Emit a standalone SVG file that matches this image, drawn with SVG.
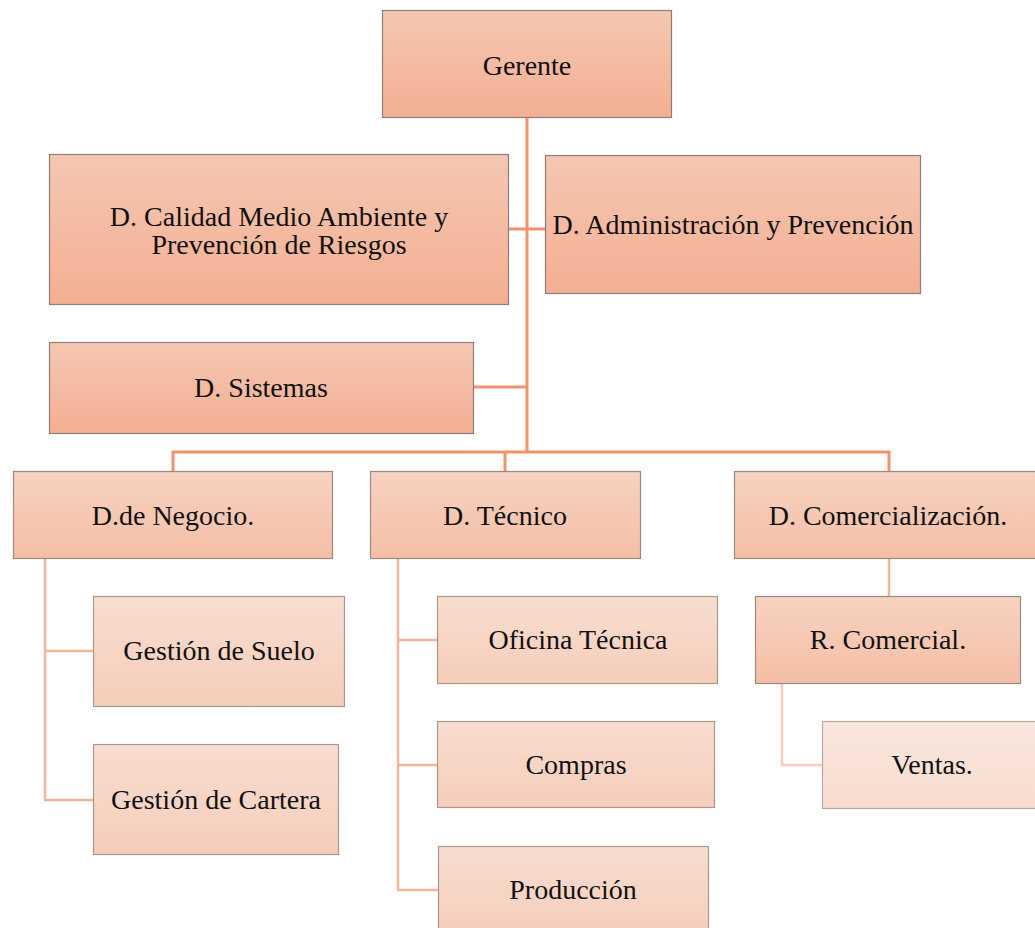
<svg xmlns="http://www.w3.org/2000/svg" width="1035" height="928" viewBox="0 0 1035 928">
  <defs>
    <linearGradient id="g1" x1="0" y1="0" x2="0" y2="1">
      <stop offset="0" stop-color="#f5c7b2"/>
      <stop offset="1" stop-color="#f3af92"/>
    </linearGradient>
    <linearGradient id="g2" x1="0" y1="0" x2="0" y2="1">
      <stop offset="0" stop-color="#f7d2c1"/>
      <stop offset="1" stop-color="#f4bea5"/>
    </linearGradient>
    <linearGradient id="g3" x1="0" y1="0" x2="0" y2="1">
      <stop offset="0" stop-color="#f8ddd0"/>
      <stop offset="1" stop-color="#f5cdba"/>
    </linearGradient>
    <linearGradient id="g4" x1="0" y1="0" x2="0" y2="1">
      <stop offset="0" stop-color="#fae7de"/>
      <stop offset="1" stop-color="#f8dccf"/>
    </linearGradient>
  </defs>
  <style>
    .box1 { fill: url(#g1); stroke: #8c7d78; stroke-width: 1.2; }
    .box2 { fill: url(#g2); stroke: #9a8a84; stroke-width: 1.2; }
    .box3 { fill: url(#g3); stroke: #a8998f; stroke-width: 1.2; }
    .box4 { fill: url(#g4); stroke: #b8aaa2; stroke-width: 1.2; }
    text { font-family: 'Liberation Serif', 'Times New Roman', serif; font-size: 28px; fill: #111; text-anchor: middle; }
    .c1 { stroke: #f0946c; stroke-width: 3; fill: none; }
    .c2 { stroke: #f4b59b; stroke-width: 2.5; fill: none; }
    .c3 { stroke: #f8cdbb; stroke-width: 2.5; fill: none; }
  </style>
  <rect width="1035" height="928" fill="#ffffff"/>

  <!-- connectors -->
  <g id="connectors">
    <path class="c1" d="M527 117 V452"/>
    <path class="c1" d="M509 229 H545"/>
    <path class="c1" d="M474 387 H527"/>
    <path class="c1" d="M173 471 V452 H889 V471"/>
    <path class="c1" d="M505 452 V471"/>
    <path class="c2" d="M45 558 V800 H93"/>
    <path class="c2" d="M45 651 H93"/>
    <path class="c2" d="M398 558 V890 H438"/>
    <path class="c2" d="M398 640 H437"/>
    <path class="c2" d="M398 765 H437"/>
    <path class="c2" d="M889 558 V596"/>
    <path class="c3" d="M782 684 V765 H822"/>
  </g>

  <!-- nodes -->
  <g id="gerente">
    <rect class="box1" x="382.5" y="10.5" width="289" height="107"/>
    <text x="527" y="75">Gerente</text>
  </g>
  <g id="calidad">
    <rect class="box1" x="49.5" y="154.5" width="459" height="150"/>
    <text x="279" y="226">D. Calidad Medio Ambiente y</text>
    <text x="279" y="254">Prevención de Riesgos</text>
  </g>
  <g id="administracion">
    <rect class="box1" x="545.5" y="155.5" width="375" height="138"/>
    <text x="733" y="234">D. Administración y Prevención</text>
  </g>
  <g id="sistemas">
    <rect class="box1" x="49.5" y="342.5" width="424" height="91"/>
    <text x="261" y="397">D. Sistemas</text>
  </g>
  <g id="negocio">
    <rect class="box2" x="13.5" y="471.5" width="319" height="87"/>
    <text x="173" y="525">D.de Negocio.</text>
  </g>
  <g id="tecnico">
    <rect class="box2" x="370.5" y="471.5" width="270" height="87"/>
    <text x="505" y="525">D. Técnico</text>
  </g>
  <g id="comercializacion">
    <rect class="box2" x="734.5" y="471.5" width="310" height="87"/>
    <text x="888" y="525">D. Comercialización.</text>
  </g>
  <g id="gestion-suelo">
    <rect class="box3" x="93.5" y="596.5" width="251" height="110"/>
    <text x="219" y="660">Gestión de Suelo</text>
  </g>
  <g id="gestion-cartera">
    <rect class="box3" x="93.5" y="744.5" width="245" height="110"/>
    <text x="216" y="809">Gestión de Cartera</text>
  </g>
  <g id="oficina-tecnica">
    <rect class="box3" x="437.5" y="596.5" width="280" height="87"/>
    <text x="578" y="649">Oficina Técnica</text>
  </g>
  <g id="compras">
    <rect class="box3" x="437.5" y="721.5" width="277" height="86"/>
    <text x="576" y="774">Compras</text>
  </g>
  <g id="produccion">
    <rect class="box3" x="438.5" y="846.5" width="270" height="90"/>
    <text x="573" y="899">Producción</text>
  </g>
  <g id="r-comercial">
    <rect class="box2" x="755.5" y="596.5" width="265" height="87"/>
    <text x="888" y="649">R. Comercial.</text>
  </g>
  <g id="ventas">
    <rect class="box4" x="822.5" y="721.5" width="220" height="87"/>
    <text x="932" y="774">Ventas.</text>
  </g>
</svg>
